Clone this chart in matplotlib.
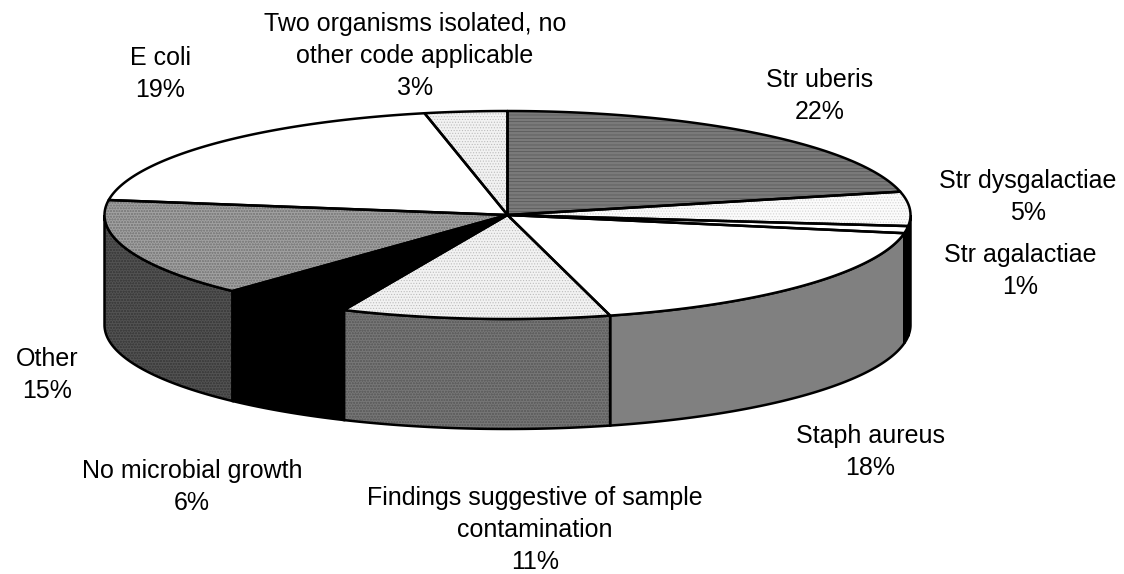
import numpy as np
import matplotlib
matplotlib.use("Agg")
import matplotlib.pyplot as plt
from matplotlib.patches import Polygon

categories = ["Str uberis", "Str dysgalactiae", "Str agalactiae", "Staph aureus",
              "Findings suggestive of sample\ncontamination", "No microbial growth",
              "Other", "E coli", "Two organisms isolated, no\nother code applicable"]
values = [21.4, 5.3, 1.1, 18.1, 10.75, 5.3, 15.35, 19.4, 3.3]
percent_labels = [22, 5, 1, 18, 11, 6, 15, 19, 3]
label_x = [820, 1028, 1020, 870, 535, 192, 47, 160, 415]
label_y = [96, 197, 271, 452, 530, 487, 375, 74, 56]
top_face = ["#7a7a7a", "#fbfbfb", "#ffffff", "#ffffff", "#f2f2f2", "#000000", "#a0a0a0", "#ffffff", "#f2f2f2"]
top_hatch = ["-----", "......", None, None, "......", None, "oooooo", None, "......"]
top_hatch_col = ["#555555", "#d4d4d4", None, None, "#bcbcbc", None, "#808080", None, "#bcbcbc"]
side_face = ["#3c3c3c", "#666666", "#000000", "#808080", "#767676", "#000000", "#525252", "#000000", "#000000"]
side_hatch = [None, None, None, None, "oooooo", None, "oooooo", None, None]
side_hatch_col = [None, None, None, None, "#606060", None, "#3e3e3e", None, None]

CX, CY, RX, RY, DEPTH = 507.5, 215.0, 403.0, 104.0, 110.0
LW = 1.8

plt.rcParams["font.family"] = ["Liberation Sans", "DejaVu Sans"]
plt.rcParams["hatch.linewidth"] = 0.5
fig = plt.figure(figsize=(11.24, 5.74), dpi=100, facecolor="white")
ax = fig.add_axes([0, 0, 1, 1])
ax.set_xlim(0, 1124)
ax.set_ylim(574, 0)
ax.axis("off")


def arc(a0, a1, n=120):
    t = np.radians(np.linspace(a0, a1, n))
    return np.column_stack([CX + RX * np.sin(t), CY - RY * np.cos(t)])


edges = np.concatenate([[0], np.cumsum(values)]) / np.sum(values) * 360

# side walls first, only the front half (90..270 degrees) is visible
for i in range(len(values)):
    a0, a1 = max(edges[i], 90), min(edges[i + 1], 270)
    if a1 <= a0:
        continue
    upper = arc(a0, a1)
    lower = upper[::-1] + [0, DEPTH]
    wall = np.vstack([upper, lower])
    ax.add_patch(Polygon(wall, closed=True, facecolor=side_face[i], edgecolor="none",
                         linewidth=0, zorder=2))
    if side_hatch[i]:
        ax.add_patch(Polygon(wall, closed=True, facecolor="none", edgecolor=side_hatch_col[i],
                             linewidth=0, hatch=side_hatch[i], zorder=2.1))
    ax.add_patch(Polygon(wall, closed=True, facecolor="none", edgecolor="black",
                         linewidth=LW, zorder=2.2))

# top wedges
for i in range(len(values)):
    pts = np.vstack([[[CX, CY]], arc(edges[i], edges[i + 1])])
    ax.add_patch(Polygon(pts, closed=True, facecolor=top_face[i], edgecolor="none",
                         linewidth=0, zorder=3))
    if top_hatch[i]:
        ax.add_patch(Polygon(pts, closed=True, facecolor="none", edgecolor=top_hatch_col[i],
                             linewidth=0, hatch=top_hatch[i], zorder=3.1))
    ax.add_patch(Polygon(pts, closed=True, facecolor="none", edgecolor="black",
                         linewidth=LW, joinstyle="round", zorder=3.2))

for name, pct, x, y in zip(categories, percent_labels, label_x, label_y):
    ax.text(x, y, f"{name}\n{pct}%", ha="center", va="center", fontsize=18,
            linespacing=1.42, color="black", zorder=5)

fig.savefig("out.png", dpi=100, facecolor="white")
